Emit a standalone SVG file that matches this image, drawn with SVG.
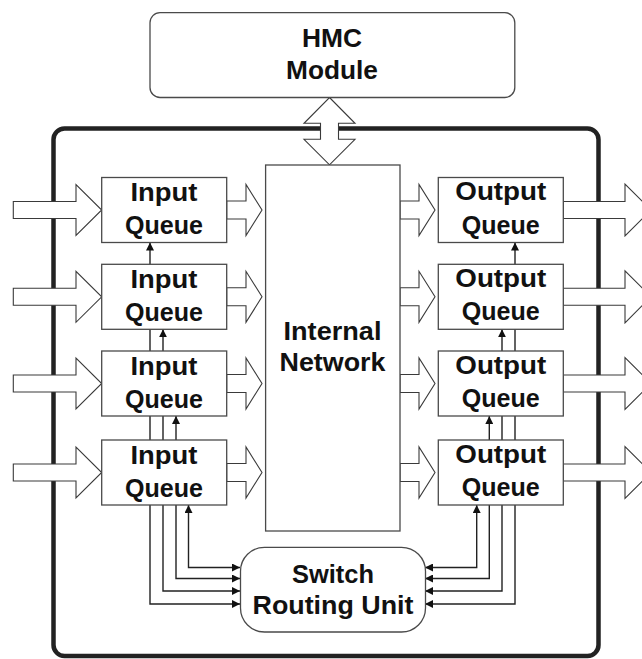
<svg xmlns="http://www.w3.org/2000/svg" width="642" height="659" viewBox="0 0 642 659">
<style>
.box{fill:#fff;stroke:#4a4a4a;stroke-width:1.3}
.fat{fill:#fff;stroke:#3a3a3a;stroke-width:1.1;stroke-linejoin:miter}
.ln{fill:none;stroke:#222;stroke-width:1.4}
.t{font-family:"Liberation Sans",Arial,sans-serif;font-weight:bold;font-size:26px;fill:#111;text-anchor:middle}
</style>
<defs>
<marker id="ah" viewBox="0 0 10 10" refX="10" refY="5" markerWidth="8" markerHeight="8" markerUnits="userSpaceOnUse" orient="auto-start-reverse">
<path d="M0,0 L10,5 L0,10 z" fill="#111"/>
</marker>
</defs>
<rect id="frame" x="53.5" y="128.5" width="545" height="527.5" rx="11" fill="none" stroke="#222" stroke-width="4.5"/>
<g id="connectors">
<path class="ln" d="M150,242.5 V604 H240" marker-start="url(#ah)" marker-end="url(#ah)"/>
<path class="ln" d="M163,329.3 V591 H240" marker-start="url(#ah)" marker-end="url(#ah)"/>
<path class="ln" d="M176,416 V578.5 H240" marker-start="url(#ah)" marker-end="url(#ah)"/>
<path class="ln" d="M188.5,505 V567.5 H240" marker-start="url(#ah)" marker-end="url(#ah)"/>
<path class="ln" d="M515,242.5 V604 H425" marker-start="url(#ah)" marker-end="url(#ah)"/>
<path class="ln" d="M502,329.3 V591 H425" marker-start="url(#ah)" marker-end="url(#ah)"/>
<path class="ln" d="M489.3,416 V578.5 H425" marker-start="url(#ah)" marker-end="url(#ah)"/>
<path class="ln" d="M476.7,505 V567.5 H425" marker-start="url(#ah)" marker-end="url(#ah)"/>
<path class="fat" d="M13.3,201.5 H76 V184.5 L101.7,210 L76,235.5 V218.5 H13.3 Z"/>
<path class="fat" d="M13.3,288.3 H76 V271.3 L101.7,296.8 L76,322.3 V305.3 H13.3 Z"/>
<path class="fat" d="M13.3,375 H76 V358 L101.7,383.5 L76,409 V392 H13.3 Z"/>
<path class="fat" d="M13.3,464 H76 V447 L101.7,472.5 L76,498 V481 H13.3 Z"/>
<path class="fat" d="M226.7,201 H246 V184.5 L262,210 L246,235.5 V219 H226.7 Z"/>
<path class="fat" d="M226.7,287.8 H246 V271.3 L262,296.8 L246,322.3 V305.8 H226.7 Z"/>
<path class="fat" d="M226.7,374.5 H246 V358 L262,383.5 L246,409 V392.5 H226.7 Z"/>
<path class="fat" d="M226.7,463.5 H246 V447 L262,472.5 L246,498 V481.5 H226.7 Z"/>
<path class="fat" d="M400,201 H419 V184.5 L435,210 L419,235.5 V219 H400 Z"/>
<path class="fat" d="M400,287.8 H419 V271.3 L435,296.8 L419,322.3 V305.8 H400 Z"/>
<path class="fat" d="M400,374.5 H419 V358 L435,383.5 L419,409 V392.5 H400 Z"/>
<path class="fat" d="M400,463.5 H419 V447 L435,472.5 L419,498 V481.5 H400 Z"/>
<path class="fat" d="M563.3,201.5 H625 V184 L651,210 L625,236 V218.5 H563.3 Z"/>
<path class="fat" d="M563.3,288.3 H625 V270.8 L651,296.8 L625,322.8 V305.3 H563.3 Z"/>
<path class="fat" d="M563.3,375 H625 V357.5 L651,383.5 L625,409.5 V392 H563.3 Z"/>
<path class="fat" d="M563.3,464 H625 V446.5 L651,472.5 L625,498.5 V481 H563.3 Z"/>
<path class="fat" d="M329.5,97.5 L355,123.3 H338.5 V139.3 H355 L329.5,164.8 L304,139.3 H320.5 V123.3 H304 Z"/>
</g>
<g id="hmc">
<rect class="box" x="150" y="12.7" width="364.8" height="84.8" rx="10"/>
<text class="t" x="332" y="47.3" textLength="60" lengthAdjust="spacingAndGlyphs">HMC</text>
<text class="t" x="332" y="79" textLength="92" lengthAdjust="spacingAndGlyphs">Module</text>
</g>
<g id="network">
<rect class="box" x="265.6" y="165" width="134.4" height="366"/>
<text class="t" x="332.5" y="340" textLength="98" lengthAdjust="spacingAndGlyphs">Internal</text>
<text class="t" x="332.5" y="370.7" textLength="106" lengthAdjust="spacingAndGlyphs">Network</text>
</g>
<g id="iq1">
<rect class="box" x="101.7" y="177.5" width="125" height="65"/>
<text class="t" x="164" y="201.3" textLength="67" lengthAdjust="spacingAndGlyphs">Input</text>
<text class="t" x="164" y="234" textLength="78" lengthAdjust="spacingAndGlyphs">Queue</text>
</g>
<g id="iq2">
<rect class="box" x="101.7" y="264.3" width="125" height="65"/>
<text class="t" x="164" y="288.1" textLength="67" lengthAdjust="spacingAndGlyphs">Input</text>
<text class="t" x="164" y="320.8" textLength="78" lengthAdjust="spacingAndGlyphs">Queue</text>
</g>
<g id="iq3">
<rect class="box" x="101.7" y="351" width="125" height="65"/>
<text class="t" x="164" y="374.8" textLength="67" lengthAdjust="spacingAndGlyphs">Input</text>
<text class="t" x="164" y="407.5" textLength="78" lengthAdjust="spacingAndGlyphs">Queue</text>
</g>
<g id="iq4">
<rect class="box" x="101.7" y="440" width="125" height="65"/>
<text class="t" x="164" y="463.8" textLength="67" lengthAdjust="spacingAndGlyphs">Input</text>
<text class="t" x="164" y="496.5" textLength="78" lengthAdjust="spacingAndGlyphs">Queue</text>
</g>
<g id="oq1">
<rect class="box" x="438.3" y="177.5" width="125" height="65"/>
<text class="t" x="500.8" y="200.3" textLength="91" lengthAdjust="spacingAndGlyphs">Output</text>
<text class="t" x="500.8" y="233.5" textLength="78" lengthAdjust="spacingAndGlyphs">Queue</text>
</g>
<g id="oq2">
<rect class="box" x="438.3" y="264.3" width="125" height="65"/>
<text class="t" x="500.8" y="287.1" textLength="91" lengthAdjust="spacingAndGlyphs">Output</text>
<text class="t" x="500.8" y="320.3" textLength="78" lengthAdjust="spacingAndGlyphs">Queue</text>
</g>
<g id="oq3">
<rect class="box" x="438.3" y="351" width="125" height="65"/>
<text class="t" x="500.8" y="373.8" textLength="91" lengthAdjust="spacingAndGlyphs">Output</text>
<text class="t" x="500.8" y="407" textLength="78" lengthAdjust="spacingAndGlyphs">Queue</text>
</g>
<g id="oq4">
<rect class="box" x="438.3" y="440" width="125" height="65"/>
<text class="t" x="500.8" y="462.8" textLength="91" lengthAdjust="spacingAndGlyphs">Output</text>
<text class="t" x="500.8" y="496" textLength="78" lengthAdjust="spacingAndGlyphs">Queue</text>
</g>
<g id="router">
<rect class="box" x="240.5" y="547.3" width="185" height="84.7" rx="24"/>
<text class="t" x="333" y="582.7" textLength="82" lengthAdjust="spacingAndGlyphs">Switch</text>
<text class="t" x="333" y="614" textLength="161" lengthAdjust="spacingAndGlyphs">Routing Unit</text>
</g>
</svg>
